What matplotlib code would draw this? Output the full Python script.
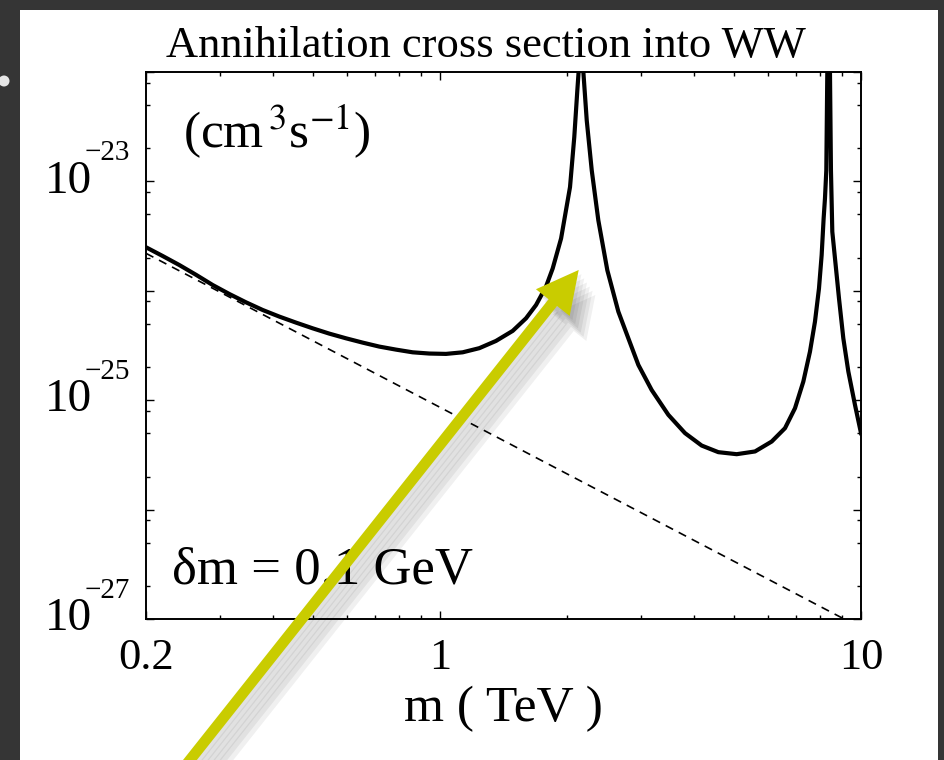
import matplotlib
matplotlib.use("Agg")
import matplotlib.pyplot as plt
import matplotlib.patheffects as pe
from matplotlib.patches import Rectangle, Ellipse
from matplotlib.ticker import FixedLocator, NullFormatter, FixedFormatter

plt.rcParams["font.family"] = ["Liberation Serif", "DejaVu Serif"]
plt.rcParams["mathtext.fontset"] = "stix"

# WW annihilation cross section (m in TeV, sigma v in cm^3/s)
mass = [0.2000, 0.2191, 0.2400, 0.2630, 0.2880, 0.3155, 0.3456, 0.3786, 0.4148, 0.4544,
        0.4978, 0.5453, 0.5973, 0.6544, 0.7169, 0.7853, 0.8603, 0.9425, 1.0325, 1.1311,
        1.239, 1.357, 1.487, 1.600, 1.690, 1.784, 1.851, 1.938, 2.035, 2.083,
        2.118, 2.134, 2.161, 2.188, 2.230, 2.292, 2.376, 2.496, 2.651,
        2.800, 2.958, 3.181, 3.485, 3.818, 4.182, 4.581, 5.065, 5.600, 6.135,
        6.598, 6.969, 7.294, 7.564, 7.774, 7.946, 8.063, 8.151, 8.211, 8.271,
        8.317, 8.375, 8.438, 8.484, 8.547, 8.705, 8.865, 9.078, 9.330, 9.676,
        10.0]
sigma_v = [2.50e-24, 2.08e-24, 1.72e-24, 1.40e-24, 1.13e-24, 9.35e-25, 7.85e-25, 6.68e-25, 5.81e-25, 5.12e-25,
           4.54e-25, 4.06e-25, 3.68e-25, 3.36e-25, 3.09e-25, 2.90e-25, 2.74e-25, 2.67e-25, 2.65e-25, 2.74e-25,
           2.99e-25, 3.48e-25, 4.30e-25, 5.61e-25, 7.42e-25, 1.09e-24, 1.60e-24, 3.01e-24, 8.87e-24, 2.54e-23,
           6.78e-23, 1.03e-22, 5e-22, 1.03e-22, 3.61e-23, 1.26e-23, 4.41e-24, 1.54e-24, 6.45e-25,
           3.68e-25, 2.10e-25, 1.24e-25, 7.35e-26, 5.00e-26, 3.85e-26, 3.35e-26, 3.21e-26, 3.40e-26, 4.19e-26,
           5.55e-26, 8.45e-26, 1.48e-25, 2.78e-25, 5.23e-25, 1.05e-24, 2.12e-24, 4.59e-24, 7.0e-24, 1.26e-23,
           1.03e-22, 5e-22, 1.03e-22, 1.26e-23, 3.47e-24, 1.72e-24, 8.54e-25, 3.68e-25, 1.83e-25, 9.06e-26,
           5.0e-26]

# dashed reference (no resonance), straight on log-log axes
mass_ref = [0.2, 10.0]
sigma_ref = [2.2e-24, 8.3e-28]

x_ticks = [0.2, 1, 10]
x_labels = ["0.2", "1", "10"]
x_minor = [0.3, 0.4, 0.5, 0.6, 0.7, 0.8, 0.9, 2, 3, 4, 5, 6, 7, 8, 9]
y_decades = [-27, -26, -25, -24, -23, -22]
y_label_exps = [-23, -25, -27]

arrow_tip = (2.134, 1.55e-24)  # where the yellow arrow points

fig = plt.figure(figsize=(9.44, 7.6), dpi=100, facecolor="#353535")
fig.add_artist(Rectangle((20 / 944, 0), 918 / 944, 750 / 760, transform=fig.transFigure,
                         facecolor="white", edgecolor="none", zorder=0))
fig.add_artist(Ellipse((4 / 944, 1 - 81 / 760), 11 / 944, 11 / 760, transform=fig.transFigure,
                       facecolor="#e6e6e6", edgecolor="none", zorder=1))

ax = fig.add_axes([146 / 944, 1 - 619 / 760, 715 / 944, 547 / 760])
ax.loglog(mass, sigma_v, color="black", lw=3.0, solid_joinstyle="round")
ax.loglog(mass_ref, sigma_ref, color="black", lw=1.2, ls=(0, (5, 3.8)))
ax.set_xlim(0.2, 10)
ax.set_ylim(1e-27, 1e-22)

ax.xaxis.set_major_locator(FixedLocator(x_ticks))
ax.xaxis.set_major_formatter(FixedFormatter(x_labels))
ax.xaxis.set_minor_locator(FixedLocator(x_minor))
ax.xaxis.set_minor_formatter(NullFormatter())
ax.yaxis.set_major_locator(FixedLocator([10.0 ** d for d in y_decades]))
ax.yaxis.set_major_formatter(NullFormatter())
ax.yaxis.set_minor_locator(FixedLocator([k * 10.0 ** d for d in y_decades[:-1] for k in (2, 5, 8)]))
ax.yaxis.set_minor_formatter(NullFormatter())

ax.tick_params(which="both", direction="in", top=True, right=True, width=1.0)
ax.tick_params(which="major", length=5.8, labelsize=32, pad=14)
ax.tick_params(which="minor", length=3.2)
for s in ax.spines.values():
    s.set_linewidth(1.4)

for e in y_label_exps:
    ax.annotate("10", xy=(0, 10.0 ** e), xycoords=("axes fraction", "data"),
                xytext=(-54, 0), textcoords="offset pixels", ha="right", va="center",
                fontsize=34, annotation_clip=False)
    ax.annotate("\u2212%d" % -e, xy=(0, 10.0 ** e), xycoords=("axes fraction", "data"),
                xytext=(-39, 28), textcoords="offset pixels", ha="center", va="center",
                fontsize=21, annotation_clip=False)

ax.set_xlabel("m ( TeV )", fontsize=37, labelpad=5)
fig.text(486 / 944, 1 - 57 / 760, "Annihilation cross section into WW", fontsize=32,
         ha="center", va="baseline")
ax.text(0.052, 0.861, r"(cm$^{\,3}$s$^{-1}$)", transform=ax.transAxes, fontsize=37,
        va="baseline")
ax.text(0.036, 0.064, "\u03b4m = 0.1 GeV", transform=ax.transAxes, fontsize=38,
        va="baseline")

arrow = ax.annotate("", xy=arrow_tip, xycoords="data", xytext=(182, -10), textcoords="figure pixels",
                    annotation_clip=False, zorder=6,
                    arrowprops=dict(arrowstyle="simple,head_length=3.0,head_width=3.1,tail_width=0.78",
                                    mutation_scale=10, facecolor="#c9cc00", edgecolor="none",
                                    shrinkA=0, shrinkB=0))
shadow = [pe.SimplePatchShadow(offset=(2 * i, -3 * i), shadow_rgbFace="black", alpha=0.06)
          for i in range(1, 7)]
arrow.arrow_patch.set_path_effects(shadow + [pe.Normal()])

fig.savefig("out.png", dpi=100, facecolor=fig.get_facecolor())
